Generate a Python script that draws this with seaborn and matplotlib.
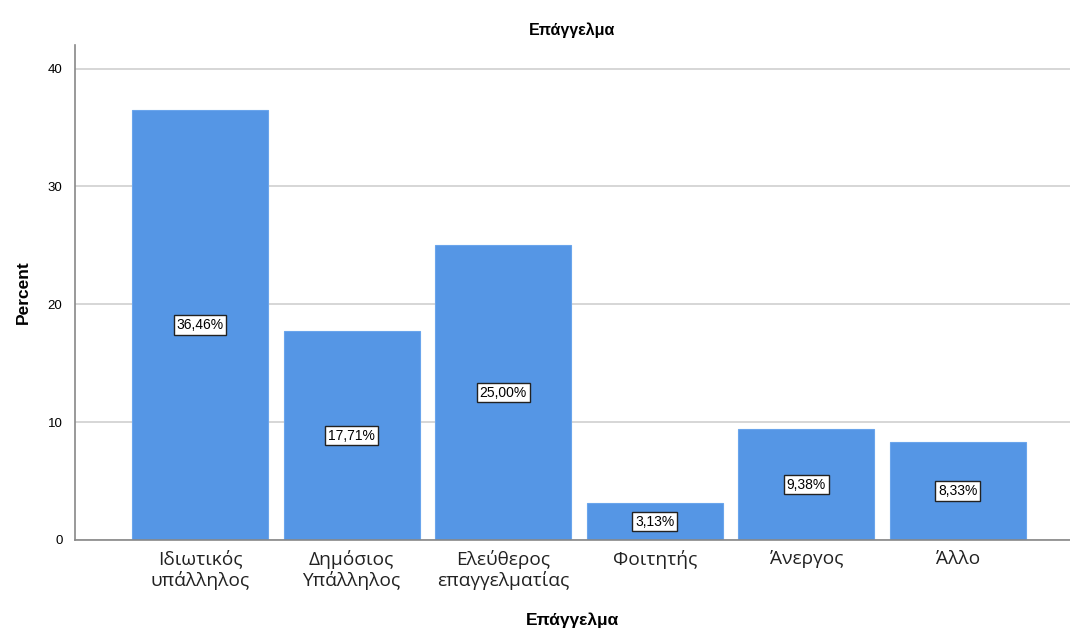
import numpy as np
import pandas as pd
import matplotlib
matplotlib.use("Agg")
import matplotlib.pyplot as plt
import seaborn as sns

# data
categories = ["Ιδιωτικός\nυπάλληλος", "Δημόσιος\nΥπάλληλος", "Ελεύθερος\nεπαγγελματίας",
              "Φοιτητής", "Άνεργος", "Άλλο"]
percents = [36.46, 17.71, 25.00, 3.13, 9.38, 8.33]
y_ticks = [0, 10, 20, 30, 40]

sns.set_style("white")
plt.rcParams["font.family"] = ["Liberation Sans", "DejaVu Sans"]
plt.rcParams["text.color"] = "black"
plt.rcParams["axes.labelcolor"] = "black"

df = pd.DataFrame({"cat": categories, "pct": percents})

fig = plt.figure(figsize=(10.7, 6.32), dpi=100)
ax = fig.add_axes([0.0701, 0.1456, 0.9299, 0.7832])

sns.barplot(data=df, x="cat", y="pct", color="#5596E5", saturation=1,
            width=0.897, ax=ax, zorder=2, edgecolor="#6AA5EC", linewidth=0.8)

ax.set_ylim(0, 42)
ax.set_xlim(-0.825, 5.74)
ax.set_yticks(y_ticks)
ax.yaxis.grid(True, color="#d0d0d0", linewidth=1.2, zorder=0)
ax.set_axisbelow(True)

for s in ["top", "right"]:
    ax.spines[s].set_visible(False)
for s in ["left", "bottom"]:
    ax.spines[s].set_color("#888888")
    ax.spines[s].set_linewidth(1.2)

ax.tick_params(axis="y", length=6, color="#888888", labelsize=9.5, pad=3, labelcolor="black")
ax.tick_params(axis="x", length=0, labelsize=13.8, pad=7, labelcolor="#222222")
for lbl in ax.get_xticklabels():
    lbl.set_family(["Open Sans", "DejaVu Sans"])
    lbl.set_linespacing(1.15)

# value labels in the middle of each bar
for i, v in enumerate(percents):
    ax.text(i, v / 2, f"{v:.2f}%".replace(".", ","), ha="center", va="center",
            fontsize=10, zorder=3,
            bbox=dict(boxstyle="square,pad=0.2", facecolor="white",
                      edgecolor="#222222", linewidth=1))

ax.set_title("Επάγγελμα", fontsize=11.5, fontweight="bold", pad=7)
ax.set_ylabel("Percent", fontsize=12.5, fontweight="bold", labelpad=12)
ax.set_xlabel("Επάγγελμα", fontsize=12.5, fontweight="bold", labelpad=16)

fig.savefig("out.png", dpi=100)
